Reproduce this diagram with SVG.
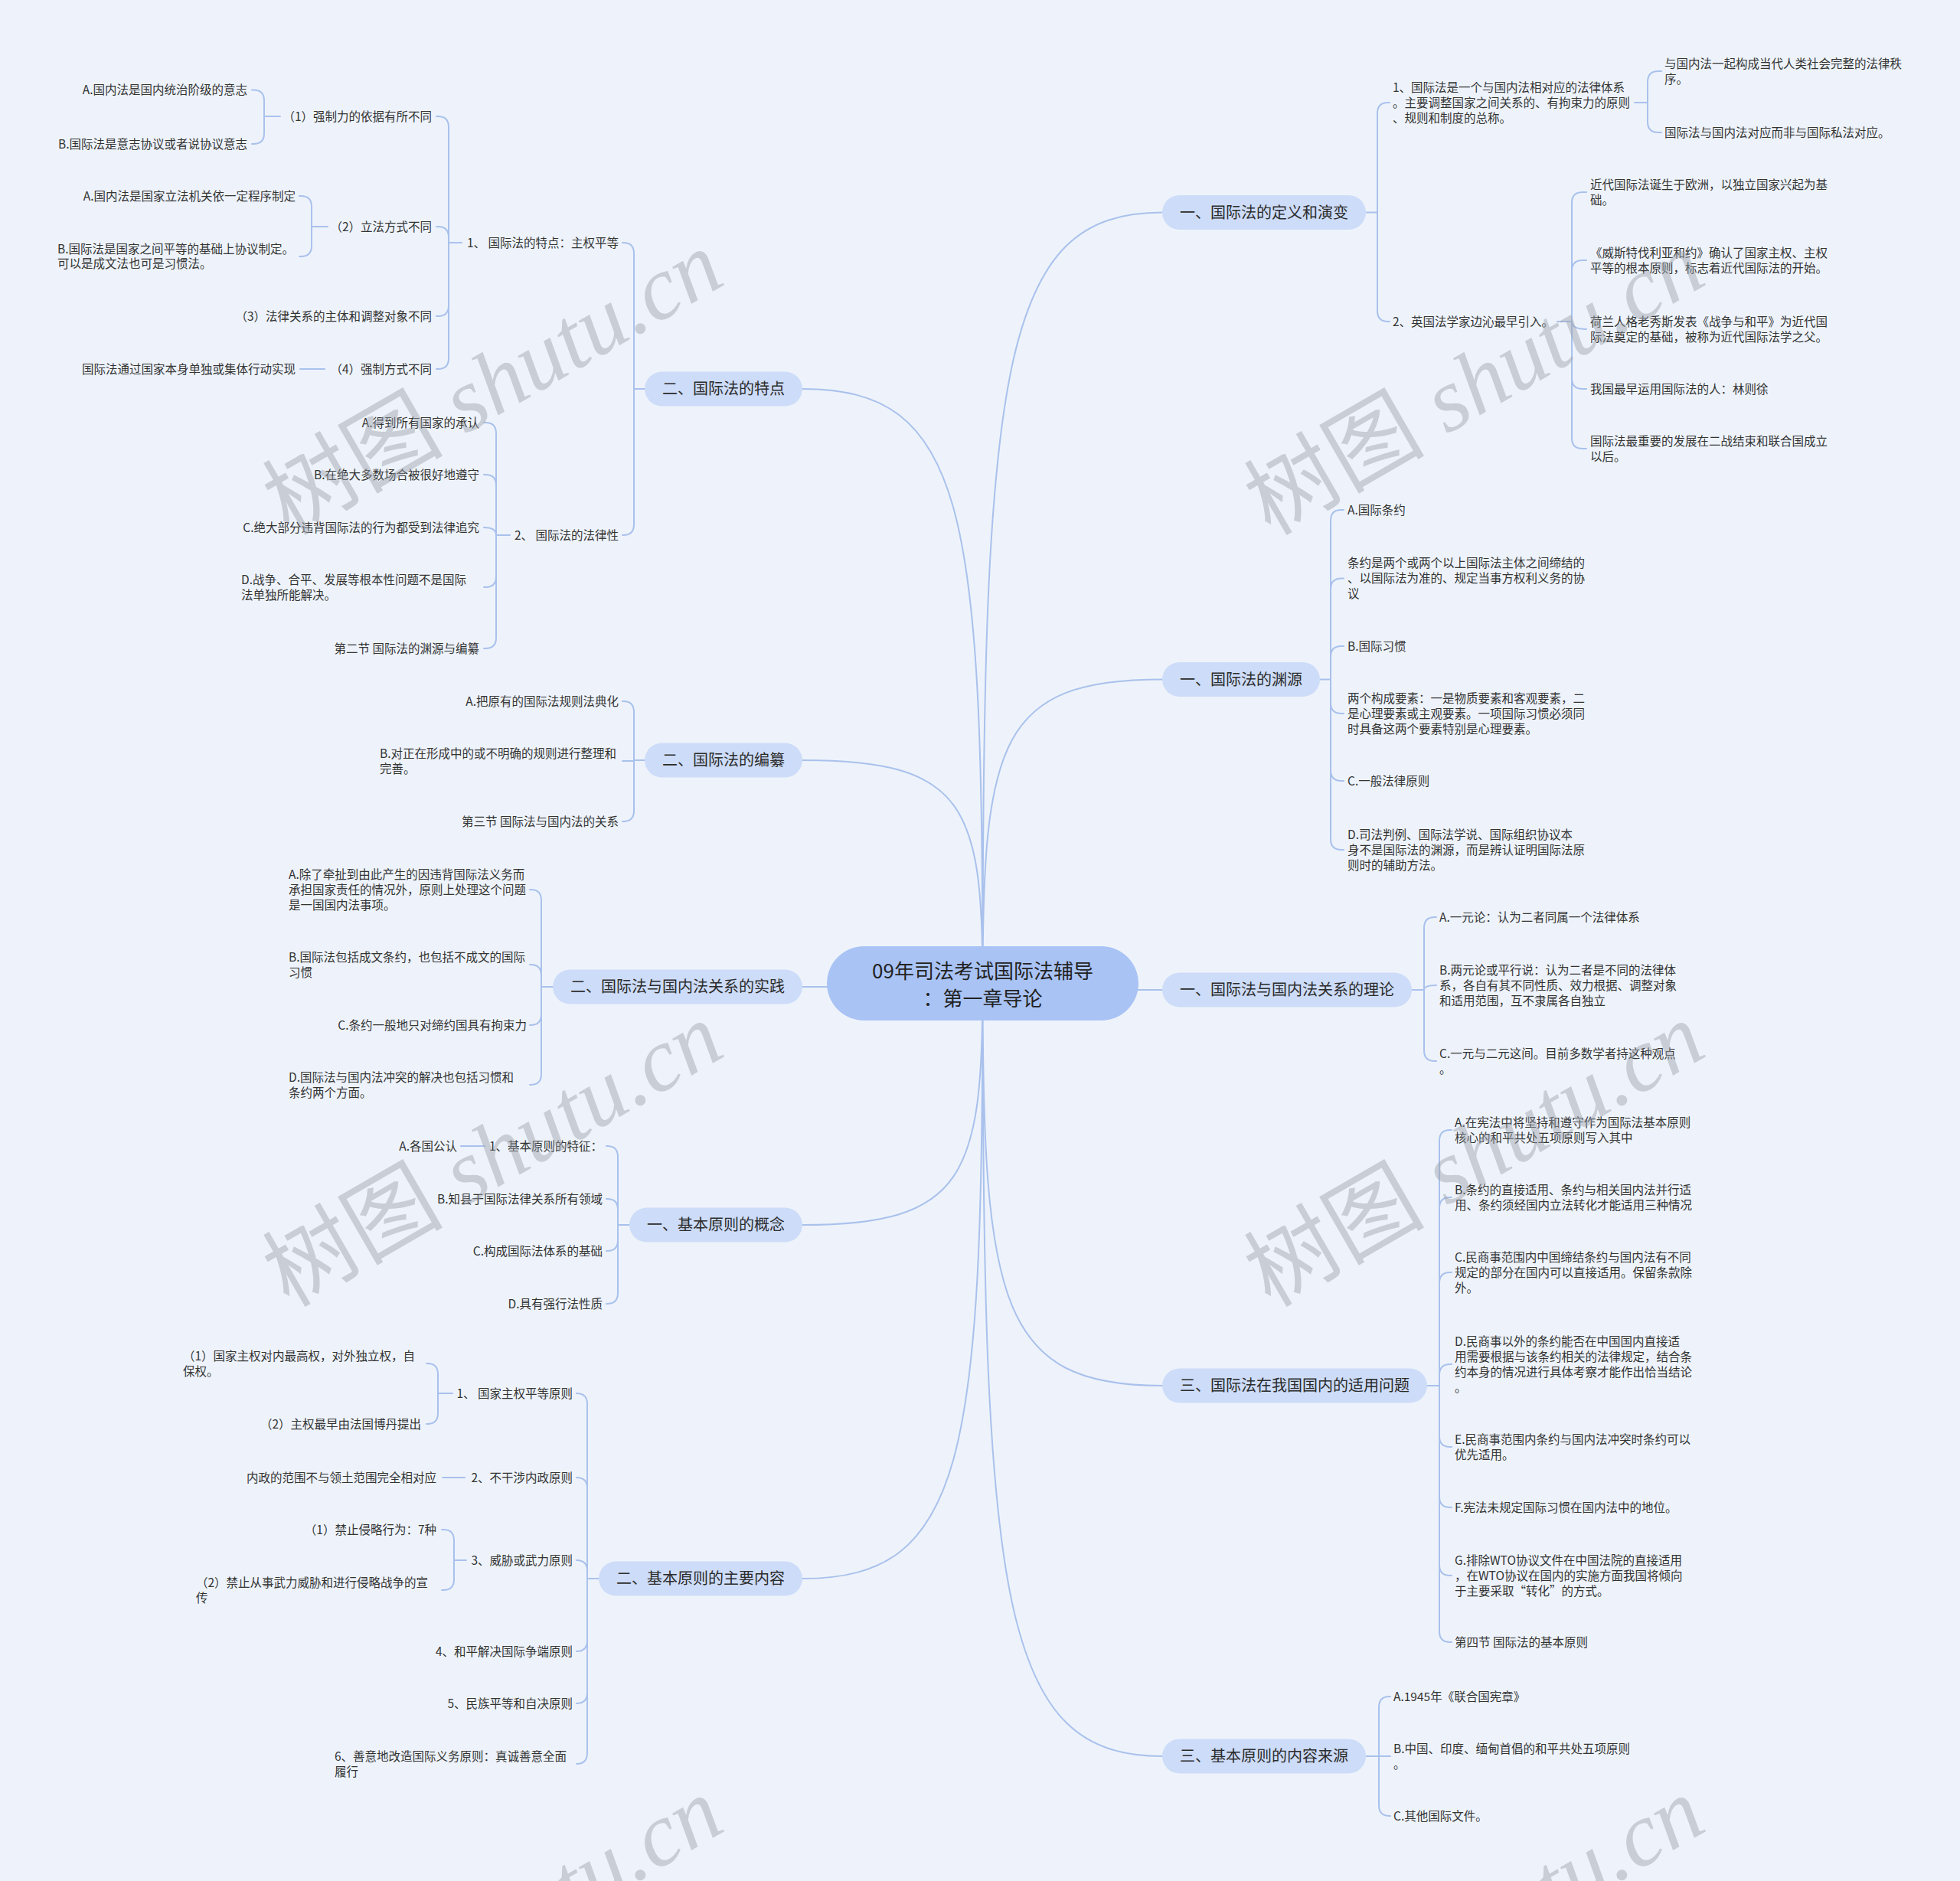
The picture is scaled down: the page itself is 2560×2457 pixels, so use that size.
<svg xmlns="http://www.w3.org/2000/svg" width="2560" height="2457" viewBox="0 0 2560 2457">
<style>
text{font-family:"Noto Sans CJK SC","Noto Sans",sans-serif;fill:#333}
.lf{font-size:15.5px}
.e{text-anchor:end}
.br rect{fill:#cddcf8}
.br text{font-size:20px;text-anchor:middle;fill:#2b2b2b}
.ct rect{fill:#a9c3f5}
.ct text{font-size:26px;text-anchor:middle;fill:#222}
.ln{fill:none;stroke:#a9c1ec;stroke-width:2;stroke-linecap:round}
.wm{font-family:"Liberation Serif","Noto Sans CJK SC",serif;font-size:118px;fill:#9aa0a8;fill-opacity:0.45;text-anchor:middle}
</style>
<rect width="2560" height="2457" fill="#eef3fb"/>
<g id="connectors">
<path class="ln" d="M1283.5 1284.5C1283.5 478.9 1307 277.5 1518 277.5M1283.5 1284.5C1283.5 966.9 1307 887.5 1518 887.5M1283.5 1284.5C1283.5 1291.3 1307 1293 1518 1293M1283.5 1284.5C1283.5 1704.9 1307 1810 1518 1810M1283.5 1284.5C1283.5 2092.1 1307 2294 1518 2294M1283.5 1284.5C1283.5 663.3 1260 508 1048 508M1283.5 1284.5C1283.5 1051.3 1260 993 1048 993M1283.5 1284.5C1283.5 1288.1 1260 1289 1048 1289M1283.5 1284.5C1283.5 1536.9 1260 1600 1048 1600M1283.5 1284.5C1283.5 1906.5 1260 2062 1048 2062"/>
<path class="ln" d="M1784 277.5H1799M1799 148V406M1799 148Q1799 134 1813 134H1815M1799 406Q1799 420 1813 420H1815"/>
<path class="ln" d="M2135 134H2152M2152 107V159M2152 107Q2152 93 2166 93H2170M2152 159Q2152 173 2166 173H2170"/>
<path class="ln" d="M2034 420H2053M2053 265V572M2053 265Q2053 251 2067 251H2072M2053 354Q2053 340 2067 340H2072M2053 420Q2053 430 2072 430M2053 494Q2053 508 2067 508H2072M2053 572Q2053 586 2067 586H2072"/>
<path class="ln" d="M1724 887.5H1738M1738 680V1096M1738 680Q1738 666 1752 666H1755M1738 769.5Q1738 755.5 1752 755.5H1755M1738 858Q1738 844 1752 844H1755M1738 918Q1738 932 1752 932H1755M1738 1006Q1738 1020 1752 1020H1755M1738 1096Q1738 1110 1752 1110H1755"/>
<path class="ln" d="M1844 1293H1860M1860 1212V1372M1860 1212Q1860 1198 1874 1198H1876M1860 1293Q1860 1287 1876 1287M1860 1372Q1860 1386 1874 1386H1876"/>
<path class="ln" d="M1864 1810H1880M1880 1490V2131M1880 1490Q1880 1476 1894 1476H1896M1880 1578Q1880 1564 1894 1564H1896M1880 1676Q1880 1662 1894 1662H1896M1880 1796Q1880 1782 1894 1782H1896M1880 1876Q1880 1890 1894 1890H1896M1880 1955Q1880 1969 1894 1969H1896M1880 2044Q1880 2058 1894 2058H1896M1880 2131Q1880 2145 1894 2145H1896"/>
<path class="ln" d="M1784 2294H1801M1801 2230V2358M1801 2230Q1801 2216 1815 2216H1816M1801 2294H1816M1801 2358Q1801 2372 1815 2372H1816"/>
<path class="ln" d="M842 508H828M828 331V685M828 331Q828 317 814 317H813M828 685Q828 699 814 699H813"/>
<path class="ln" d="M603 317H586M586 166V468M586 166Q586 152 572 152H570M586 310Q586 296 572 296H570M586 399Q586 413 572 413H570M586 468Q586 482 572 482H570"/>
<path class="ln" d="M366 152H345M345 131.6V174M345 131.6Q345 117.6 331 117.6H329M345 174Q345 188 331 188H329"/>
<path class="ln" d="M428 296H407M407 270V321M407 270Q407 256 393 256H391M407 321Q407 335 393 335H391"/>
<path class="ln" d="M424 482H392"/>
<path class="ln" d="M666 699H648M648 566V833M648 566Q648 552 634 552H632M648 634Q648 620 634 620H632M648 699Q648 689 632 689M648 753Q648 767 634 767H632M648 833Q648 847 634 847H632"/>
<path class="ln" d="M842 993H828M828 930V1059M828 930Q828 916 814 916H813M828 994H813M828 1059Q828 1073 814 1073H813"/>
<path class="ln" d="M722 1289H707M707 1176V1403M707 1176Q707 1162 693 1162H692M707 1274Q707 1260 693 1260H692M707 1325Q707 1339 693 1339H692M707 1403Q707 1417 693 1417H692"/>
<path class="ln" d="M822 1600H807M807 1511V1689M807 1511Q807 1497 793 1497H792M807 1580Q807 1566 793 1566H792M807 1620Q807 1634 793 1634H792M807 1689Q807 1703 793 1703H792M633 1497H602"/>
<path class="ln" d="M782 2062H767M767 1834V2290M767 1834Q767 1820 753 1820M767 1944Q767 1930 753 1930M767 2052Q767 2038 753 2038M767 2143Q767 2157 753 2157M767 2211Q767 2225 753 2225M767 2290Q767 2304 753 2304"/>
<path class="ln" d="M591 1820H572M572 1795V1846M572 1795Q572 1781 558 1781H557M572 1846Q572 1860 558 1860H557M607 1930H578"/>
<path class="ln" d="M609 2038H593M593 2012V2063M593 2012Q593 1998 579 1998H577M593 2063Q593 2077 579 2077H577"/>
</g>
<g id="center" class="ct"><rect x="1080" y="1236" width="407" height="97" rx="48.5"/><text x="1283.5" y="1278">09年司法考试国际法辅导</text><text x="1283.5" y="1313.5">：第一章导论</text></g>
<g id="r1" class="br"><rect x="1518" y="255" width="266" height="45" rx="22.5"/><text x="1651" y="284.5">一、国际法的定义和演变</text></g>
<g id="r2" class="br"><rect x="1518" y="865" width="206" height="45" rx="22.5"/><text x="1621" y="894.5">一、国际法的渊源</text></g>
<g id="r3" class="br"><rect x="1518" y="1270.5" width="326" height="45" rx="22.5"/><text x="1681" y="1300">一、国际法与国内法关系的理论</text></g>
<g id="r4" class="br"><rect x="1518" y="1787.5" width="346" height="45" rx="22.5"/><text x="1691" y="1817">三、国际法在我国国内的适用问题</text></g>
<g id="r5" class="br"><rect x="1518" y="2271.5" width="266" height="45" rx="22.5"/><text x="1651" y="2301">三、基本原则的内容来源</text></g>
<g id="l1" class="br"><rect x="842" y="485.5" width="206" height="45" rx="22.5"/><text x="945" y="515">二、国际法的特点</text></g>
<g id="l2" class="br"><rect x="842" y="970.5" width="206" height="45" rx="22.5"/><text x="945" y="1000">二、国际法的编纂</text></g>
<g id="l3" class="br"><rect x="722" y="1266.5" width="326" height="45" rx="22.5"/><text x="885" y="1296">二、国际法与国内法关系的实践</text></g>
<g id="l4" class="br"><rect x="822" y="1577.5" width="226" height="45" rx="22.5"/><text x="935" y="1607">一、基本原则的概念</text></g>
<g id="l5" class="br"><rect x="782" y="2039.5" width="266" height="45" rx="22.5"/><text x="915" y="2069">二、基本原则的主要内容</text></g>
<g class="lf">
<g id="r1a"><text x="1819" y="119.5">1、国际法是一个与国内法相对应的法律体系</text><text x="1819" y="139.5">。主要调整国家之间关系的、有拘束力的原则</text><text x="1819" y="159.5">、规则和制度的总称。</text></g>
<g id="r1a1"><text x="2174" y="88.5">与国内法一起构成当代人类社会完整的法律秩</text><text x="2174" y="108.5">序。</text></g>
<g id="r1a2"><text x="2174" y="178.5">国际法与国内法对应而非与国际私法对应。</text></g>
<g id="r1b"><text x="1819" y="425.5">2、英国法学家边沁最早引入。</text></g>
<g id="r1b1"><text x="2077" y="246.5">近代国际法诞生于欧洲，以独立国家兴起为基</text><text x="2077" y="266.5">础。</text></g>
<g id="r1b2"><text x="2077" y="335.5">《威斯特伐利亚和约》确认了国家主权、主权</text><text x="2077" y="355.5">平等的根本原则，标志着近代国际法的开始。</text></g>
<g id="r1b3"><text x="2077" y="425.5">荷兰人格老秀斯发表《战争与和平》为近代国</text><text x="2077" y="445.5">际法奠定的基础，被称为近代国际法学之父。</text></g>
<g id="r1b4"><text x="2077" y="513.5">我国最早运用国际法的人：林则徐</text></g>
<g id="r1b5"><text x="2077" y="581.5">国际法最重要的发展在二战结束和联合国成立</text><text x="2077" y="601.5">以后。</text></g>
<g id="r2a"><text x="1760" y="671.5">A.国际条约</text></g>
<g id="r2b"><text x="1760" y="741">条约是两个或两个以上国际法主体之间缔结的</text><text x="1760" y="761">、以国际法为准的、规定当事方权利义务的协</text><text x="1760" y="781">议</text></g>
<g id="r2c"><text x="1760" y="849.5">B.国际习惯</text></g>
<g id="r2d"><text x="1760" y="917.5">两个构成要素：一是物质要素和客观要素，二</text><text x="1760" y="937.5">是心理要素或主观要素。一项国际习惯必须同</text><text x="1760" y="957.5">时具备这两个要素特别是心理要素。</text></g>
<g id="r2e"><text x="1760" y="1025.5">C.一般法律原则</text></g>
<g id="r2f"><text x="1760" y="1095.5">D.司法判例、国际法学说、国际组织协议本</text><text x="1760" y="1115.5">身不是国际法的渊源，而是辨认证明国际法原</text><text x="1760" y="1135.5">则时的辅助方法。</text></g>
<g id="r3a"><text x="1880" y="1203.5">A.一元论：认为二者同属一个法律体系</text></g>
<g id="r3b"><text x="1880" y="1272.5">B.两元论或平行说：认为二者是不同的法律体</text><text x="1880" y="1292.5">系，各自有其不同性质、效力根据、调整对象</text><text x="1880" y="1312.5">和适用范围，互不隶属各自独立</text></g>
<g id="r3c"><text x="1880" y="1381.5">C.一元与二元这间。目前多数学者持这种观点</text><text x="1880" y="1401.5">。</text></g>
<g id="r4a"><text x="1900" y="1471.5">A.在宪法中将坚持和遵守作为国际法基本原则</text><text x="1900" y="1491.5">核心的和平共处五项原则写入其中</text></g>
<g id="r4b"><text x="1900" y="1559.5">B.条约的直接适用、条约与相关国内法并行适</text><text x="1900" y="1579.5">用、条约须经国内立法转化才能适用三种情况</text></g>
<g id="r4c"><text x="1900" y="1647.5">C.民商事范围内中国缔结条约与国内法有不同</text><text x="1900" y="1667.5">规定的部分在国内可以直接适用。保留条款除</text><text x="1900" y="1687.5">外。</text></g>
<g id="r4d"><text x="1900" y="1757.5">D.民商事以外的条约能否在中国国内直接适</text><text x="1900" y="1777.5">用需要根据与该条约相关的法律规定，结合条</text><text x="1900" y="1797.5">约本身的情况进行具体考察才能作出恰当结论</text><text x="1900" y="1817.5">。</text></g>
<g id="r4e"><text x="1900" y="1885.5">E.民商事范围内条约与国内法冲突时条约可以</text><text x="1900" y="1905.5">优先适用。</text></g>
<g id="r4f"><text x="1900" y="1974.5">F.宪法未规定国际习惯在国内法中的地位。</text></g>
<g id="r4g"><text x="1900" y="2043.5">G.排除WTO协议文件在中国法院的直接适用</text><text x="1900" y="2063.5">，在WTO协议在国内的实施方面我国将倾向</text><text x="1900" y="2083.5">于主要采取“转化”的方式。</text></g>
<g id="r4h"><text x="1900" y="2150.5">第四节 国际法的基本原则</text></g>
<g id="r5a"><text x="1820" y="2221.5">A.1945年《联合国宪章》</text></g>
<g id="r5b"><text x="1820" y="2289.5">B.中国、印度、缅甸首倡的和平共处五项原则</text><text x="1820" y="2309.5">。</text></g>
<g id="r5c"><text x="1820" y="2377.5">C.其他国际文件。</text></g>
<g id="l1a"><text class="e" x="808" y="322.5">1、 国际法的特点：主权平等</text></g>
<g id="l1a1"><text class="e" x="564" y="157.5">（1）强制力的依据有所不同</text></g>
<g id="l1a1a"><text class="e" x="323" y="123">A.国内法是国内统治阶级的意志</text></g>
<g id="l1a1b"><text class="e" x="323" y="193.5">B.国际法是意志协议或者说协议意志</text></g>
<g id="l1a2"><text class="e" x="564" y="301.5">（2）立法方式不同</text></g>
<g id="l1a2a"><text class="e" x="386" y="261.5">A.国内法是国家立法机关依一定程序制定</text></g>
<g id="l1a2b"><text x="75" y="330.5">B.国际法是国家之间平等的基础上协议制定。</text><text x="75" y="350">可以是成文法也可是习惯法。</text></g>
<g id="l1a3"><text class="e" x="564" y="418.5">（3）法律关系的主体和调整对象不同</text></g>
<g id="l1a4"><text class="e" x="564" y="487.5">（4）强制方式不同</text></g>
<g id="l1a4a"><text class="e" x="386" y="487.5">国际法通过国家本身单独或集体行动实现</text></g>
<g id="l1b"><text class="e" x="808" y="704.5">2、 国际法的法律性</text></g>
<g id="l1b1"><text class="e" x="626" y="557.5">A.得到所有国家的承认</text></g>
<g id="l1b2"><text class="e" x="626" y="625.5">B.在绝大多数场合被很好地遵守</text></g>
<g id="l1b3"><text class="e" x="626" y="694.5">C.绝大部分违背国际法的行为都受到法律追究</text></g>
<g id="l1b4"><text x="315" y="763">D.战争、合平、发展等根本性问题不是国际</text><text x="315" y="782.5">法单独所能解决。</text></g>
<g id="l1b5"><text class="e" x="626" y="852.5">第二节 国际法的渊源与编纂</text></g>
<g id="l2a"><text class="e" x="808" y="921.5">A.把原有的国际法规则法典化</text></g>
<g id="l2b"><text x="496" y="990">B.对正在形成中的或不明确的规则进行整理和</text><text x="496" y="1009.5">完善。</text></g>
<g id="l2c"><text class="e" x="808" y="1078.5">第三节 国际法与国内法的关系</text></g>
<g id="l3a"><text x="377" y="1147.5">A.除了牵扯到由此产生的因违背国际法义务而</text><text x="377" y="1167.5">承担国家责任的情况外，原则上处理这个问题</text><text x="377" y="1187.5">是一国国内法事项。</text></g>
<g id="l3b"><text x="377" y="1255.5">B.国际法包括成文条约，也包括不成文的国际</text><text x="377" y="1275.5">习惯</text></g>
<g id="l3c"><text class="e" x="688" y="1344.5">C.条约一般地只对缔约国具有拘束力</text></g>
<g id="l3d"><text x="377" y="1412.5">D.国际法与国内法冲突的解决也包括习惯和</text><text x="377" y="1432.5">条约两个方面。</text></g>
<g id="l4a"><text class="e" x="787" y="1502.5">1、基本原则的特征：</text></g>
<g id="l4a1"><text class="e" x="597" y="1502.5">A.各国公认</text></g>
<g id="l4b"><text class="e" x="787" y="1571.5">B.知县于国际法律关系所有领域</text></g>
<g id="l4c"><text class="e" x="787" y="1639.5">C.构成国际法体系的基础</text></g>
<g id="l4d"><text class="e" x="787" y="1708.5">D.具有强行法性质</text></g>
<g id="l5a"><text class="e" x="748" y="1825.5">1、 国家主权平等原则</text></g>
<g id="l5a1"><text x="239" y="1776.5">（1）国家主权对内最高权，对外独立权，自</text><text x="239" y="1796.5">保权。</text></g>
<g id="l5a2"><text class="e" x="550" y="1865.5">（2）主权最早由法国博丹提出</text></g>
<g id="l5b"><text class="e" x="748" y="1935.5">2、不干涉内政原则</text></g>
<g id="l5b1"><text class="e" x="570" y="1935.5">内政的范围不与领土范围完全相对应</text></g>
<g id="l5c"><text class="e" x="748" y="2043.5">3、威胁或武力原则</text></g>
<g id="l5c1"><text class="e" x="570" y="2003.5">（1）禁止侵略行为：7种</text></g>
<g id="l5c2"><text x="256" y="2072.5">（2）禁止从事武力威胁和进行侵略战争的宣</text><text x="256" y="2092.5">传</text></g>
<g id="l5d"><text class="e" x="748" y="2162.5">4、和平解决国际争端原则</text></g>
<g id="l5e"><text class="e" x="748" y="2230.5">5、民族平等和自决原则</text></g>
<g id="l5f"><text x="437" y="2299.5">6、善意地改造国际义务原则：真诚善意全面</text><text x="437" y="2319.5">履行</text></g>
</g>
<g id="watermark">
<text class="wm" transform="rotate(-30 645 502)" x="645" y="540">树图 <tspan font-style="italic">shutu.cn</tspan></text>
<text class="wm" transform="rotate(-30 1927 502)" x="1927" y="540">树图 <tspan font-style="italic">shutu.cn</tspan></text>
<text class="wm" transform="rotate(-30 645 1510)" x="645" y="1548">树图 <tspan font-style="italic">shutu.cn</tspan></text>
<text class="wm" transform="rotate(-30 1927 1510)" x="1927" y="1548">树图 <tspan font-style="italic">shutu.cn</tspan></text>
<text class="wm" transform="rotate(-30 645 2522)" x="645" y="2560">树图 <tspan font-style="italic">shutu.cn</tspan></text>
<text class="wm" transform="rotate(-30 1927 2522)" x="1927" y="2560">树图 <tspan font-style="italic">shutu.cn</tspan></text>
</g>
</svg>
